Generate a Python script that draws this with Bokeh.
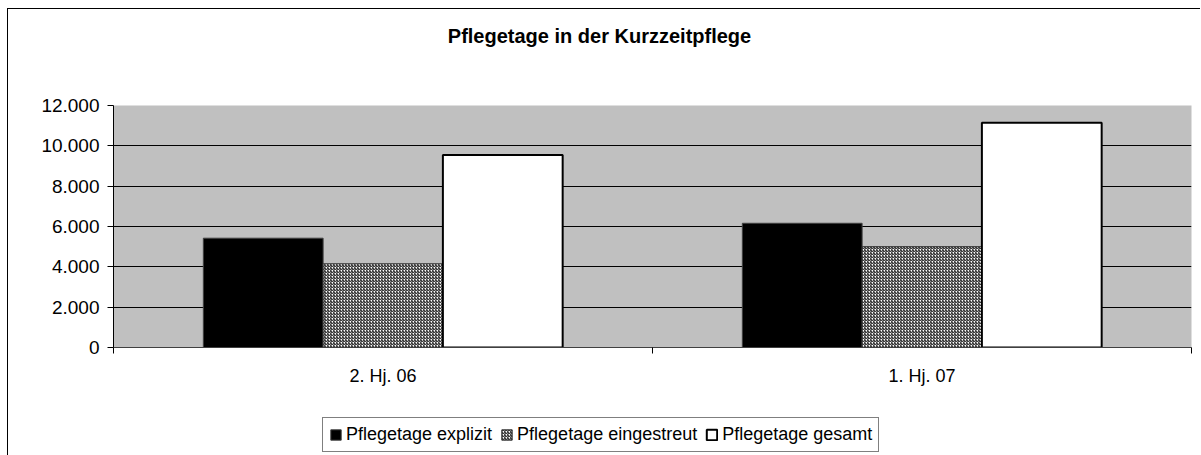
from bokeh.plotting import figure
from bokeh.models import (Range1d, FixedTicker, Legend, LegendItem, Label,
                          ColumnDataSource)
from bokeh.layouts import column
from bokeh.transform import dodge
from bokeh.embed import file_html
from bokeh.resources import INLINE

# ---- data ----
categories = ["2. Hj. 06", "1. Hj. 07"]
series_names = ["Pflegetage explizit", "Pflegetage eingestreut", "Pflegetage gesamt"]
explizit = [5420, 6160]
eingestreut = [4150, 5000]
gesamt = [9550, 11140]
y_ticks = [0, 2000, 4000, 6000, 8000, 10000, 12000]
y_tick_labels = ["0", "2.000", "4.000", "6.000", "8.000", "10.000", "12.000"]
title_text = "Pflegetage in der Kurzzeitpflege"

FONT = "Liberation Sans"
W = 1192

# series styles
styles = [
    dict(fill_color="black", line_color="#404040", line_width=1),
    dict(fill_color="white", hatch_pattern="/", hatch_color="black",
         hatch_scale=3, hatch_weight=1, line_color="#303030", line_width=1),
    dict(fill_color="white", line_color="black", line_width=2),
]
series_cols = ["explizit", "eingestreut", "gesamt"]

bar_w = 1 / 4.5
centers = [i + 0.5 for i in range(len(categories))]
src = ColumnDataSource(dict(x=centers, explizit=explizit,
                            eingestreut=eingestreut, gesamt=gesamt))


def blank(height):
    f = figure(width=W, height=height, output_backend="svg", toolbar_location=None,
               x_axis_type=None, y_axis_type=None, min_border=0,
               x_range=Range1d(0, len(categories)), y_range=Range1d(0, 1),
               outline_line_color=None, background_fill_color="white",
               border_fill_color="white")
    f.xgrid.grid_line_color = None
    f.ygrid.grid_line_color = None
    return f


# ---- header with title (frames are aligned in the column) ----
header = blank(60)
header.add_layout(Label(x=486, y=34, x_units="screen", y_units="screen",
                        text=title_text, text_align="center",
                        text_baseline="middle", text_font=FONT,
                        text_font_style="bold", text_font_size="20px",
                        text_color="black"))

# ---- main chart ----
p = figure(width=W, height=322, output_backend="svg", toolbar_location=None,
           x_range=Range1d(0, len(categories)), y_range=Range1d(0, 12000),
           min_border_left=105, min_border_right=9, min_border_top=36,
           min_border_bottom=44,
           background_fill_color="#C0C0C0", border_fill_color="white",
           outline_line_color=None)

for col_name, off, st in zip(series_cols, [-bar_w, 0, bar_w], styles):
    p.vbar(x=dodge("x", off), top=col_name, width=bar_w, source=src, **st)

xa = p.xaxis[0]
xa.ticker = FixedTicker(ticks=centers, minor_ticks=list(range(len(categories) + 1)))
xa.major_label_overrides = {c: lab for c, lab in zip(centers, categories)}
xa.major_tick_out = 0
xa.major_tick_in = 0
xa.minor_tick_out = 6
xa.minor_tick_in = 0
xa.minor_tick_line_color = "black"
xa.axis_line_color = "#404040"
xa.major_label_standoff = 12
xa.major_label_text_font = FONT
xa.major_label_text_font_size = "18px"
xa.major_label_text_color = "black"

ya = p.yaxis[0]
ya.ticker = FixedTicker(ticks=y_ticks)
ya.major_label_overrides = dict(zip(y_ticks, y_tick_labels))
ya.major_tick_out = 6
ya.major_tick_in = 0
ya.minor_tick_line_color = None
ya.axis_line_color = "black"
ya.major_tick_line_color = "black"
ya.major_label_standoff = 8
ya.major_label_text_font = FONT
ya.major_label_text_font_size = "19px"
ya.major_label_text_color = "black"

p.ygrid.grid_line_color = "black"
p.ygrid.grid_line_width = 1
p.xgrid.grid_line_color = None

# ---- footer with legend (its own bars are hidden; only the legend shows) ----
footer = blank(64)
legend_renderers = [footer.vbar(x=dodge("x", off), top=col_name, width=bar_w,
                                source=src, visible=False, **st)
                    for col_name, off, st in zip(series_cols, [-bar_w, 0, bar_w], styles)]
legend = Legend(items=[LegendItem(label=n, renderers=[r])
                       for n, r in zip(series_names, legend_renderers)],
                orientation="horizontal", location=(209, 3),
                padding=6, spacing=8, label_standoff=4, glyph_width=13,
                glyph_height=13, label_height=18, label_text_font=FONT,
                label_text_font_size="18px", label_text_color="black",
                border_line_color="black", border_line_width=1,
                background_fill_color="white", background_fill_alpha=1.0,
                inactive_fill_alpha=0.0, margin=0)
footer.add_layout(legend, "center")

layout = column(header, p, footer, spacing=0)
layout.styles = {"border-left": "1px solid black", "border-top": "1px solid black",
                 "margin-left": "7px", "margin-top": "8px"}

open("out.html", "w").write(file_html(layout, INLINE))
